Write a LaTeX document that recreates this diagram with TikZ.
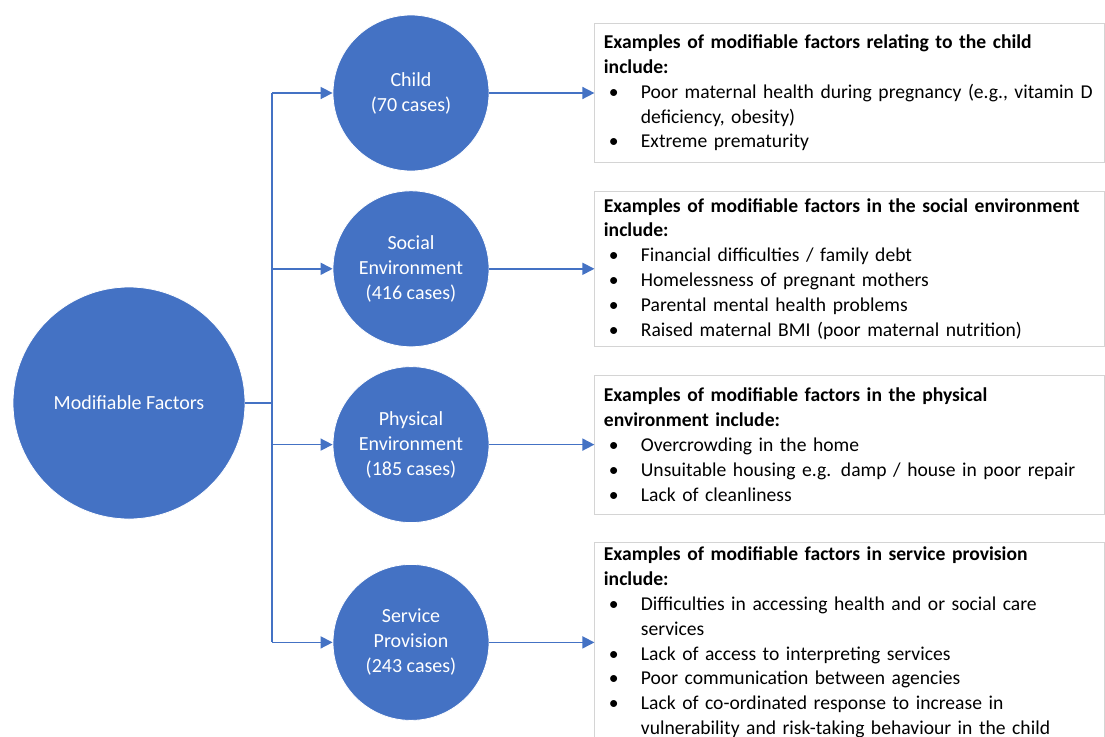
\documentclass[tikz,border=0pt]{standalone}
\usepackage{fontspec}
\setmainfont{Carlito}
\usepackage{tikz}
\usetikzlibrary{positioning}
\usetikzlibrary{arrows.meta}
\definecolor{factorblue}{HTML}{4472C4}
\definecolor{boxgray}{HTML}{D4D4D4}
\newcommand{\bul}{\makebox[37pt][l]{\hspace{5pt}\textbullet}}
\newcommand{\cnt}{\hspace*{37pt}}
\tikzset{
main_circle/.style={circle, fill=factorblue, draw=white, line width=0.8pt, text=white, minimum size=232pt, inner sep=0pt, font=\fontsize{20}{25}\selectfont},
factor_circle/.style={circle, fill=factorblue, draw=white, line width=0.8pt, text=white, minimum size=156pt, inner sep=0pt, align=center, font=\fontsize{20}{25}\selectfont},
example_box/.style={rectangle, draw=boxgray, line width=1pt, fill=white, minimum width=510pt, text width=492pt, inner xsep=9pt, inner ysep=0pt, align=left, font=\fontsize{19.6}{24.8}\selectfont},
link/.style={draw=factorblue, line width=1.6pt},
link_arrow/.style={link, -{Triangle[length=12pt, width=12pt]}}
}

\begin{document}
\begin{tikzpicture}[x=1pt, y=-1pt]
    \useasboundingbox (0,0) rectangle (1105,736);
    \clip (0,0) rectangle (1105,736);

    \node[main_circle] (modifiable) at (129,403) {Modifiable Factors};

    \node[factor_circle] (child) at (411,93) {Child\\(70 cases)};
    \node[factor_circle] (social) [below=19pt of child] {Social\\Environment\\(416 cases)};
    \node[factor_circle] (physical) [below=19pt of social] {Physical\\Environment\\(185 cases)};
    \node[factor_circle] (service) [below=41pt of physical] {Service\\Provision\\(243 cases)};

    \node[example_box, minimum height=139pt] (child_box) [right=105pt of child] {%
        \textbf{Examples of modifiable factors relating to the child}\\
        \textbf{include:}\\
        \bul\mbox{Poor maternal health during pregnancy (e.g., vitamin D}\\
        \cnt deficiency, obesity)\\
        \bul Extreme prematurity};
    \node[example_box, minimum height=155pt] (social_box) [right=105pt of social] {%
        \mbox{\textbf{Examples of modifiable factors in the social environment}}\\
        \textbf{include:}\\
        \bul Financial difficulties / family debt\\
        \bul Homelessness of pregnant mothers\\
        \bul Parental mental health problems\\
        \bul Raised maternal BMI (poor maternal nutrition)};
    \node[example_box, minimum height=139pt] (physical_box) [right=105pt of physical] {%
        \textbf{Examples of modifiable factors in the physical}\\
        \textbf{environment include:}\\
        \bul Overcrowding in the home\\
        \bul Unsuitable housing e.g. damp / house in poor repair\\
        \bul Lack of cleanliness};
    \node[example_box, minimum height=199pt] (service_box) [right=105pt of service] {%
        \textbf{Examples of modifiable factors in service provision}\\
        \textbf{include:}\\
        \bul Difficulties in accessing health and or social care\\
        \cnt services\\
        \bul Lack of access to interpreting services\\
        \bul Poor communication between agencies\\
        \bul Lack of co-ordinated response to increase in\\
        \cnt vulnerability and risk-taking behaviour in the child};

    % tree from the main circle
    \coordinate (trunk) at (272,403);
    \draw[link] (modifiable.east) -- (trunk);
    \draw[link] (trunk |- child.west) -- (trunk |- service.west);
    \foreach \f in {child, social, physical, service} {
        \draw[link_arrow] (trunk |- \f.west) -- (\f.west);
        \draw[link_arrow] (\f.east) -- (\f_box.west);
    }
\end{tikzpicture}
\end{document}
